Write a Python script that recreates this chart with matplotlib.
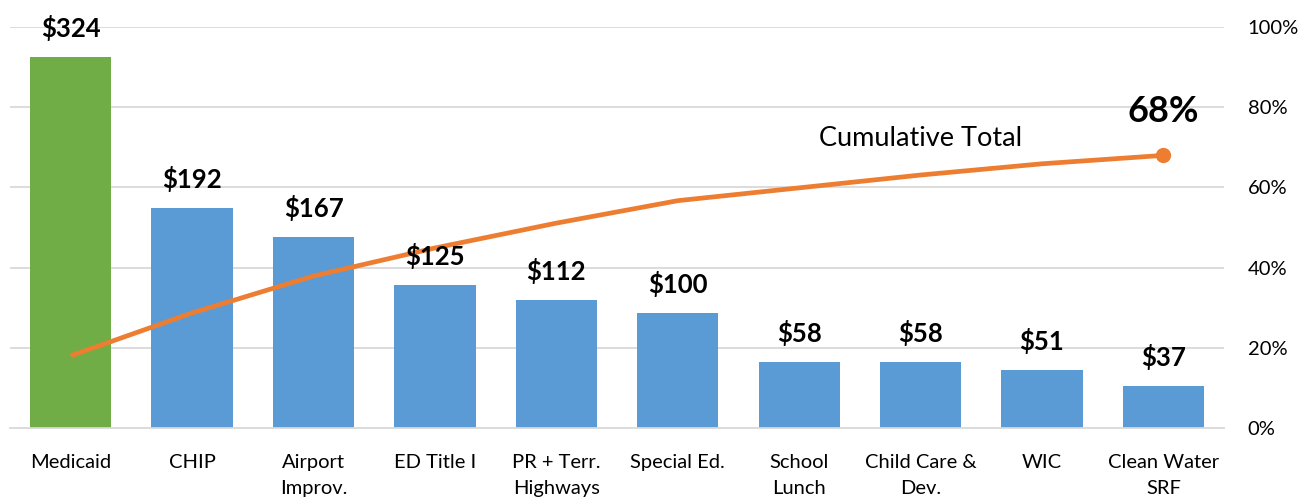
import matplotlib.pyplot as plt
from matplotlib.ticker import FuncFormatter

plt.rcParams['font.family'] = ['Lato', 'DejaVu Sans']

categories = ['Medicaid', 'CHIP', 'Airport\nImprov.', 'ED Title I', 'PR + Terr.\nHighways',
              'Special Ed.', 'School\nLunch', 'Child Care &\nDev.', 'WIC', 'Clean Water\nSRF']
amounts = [324, 192, 167, 125, 112, 100, 58, 58, 51, 37]
cumulative = [18.0, 28.7, 37.9, 44.9, 51.1, 56.7, 59.9, 63.1, 65.9, 68.0]
bar_colors = ['#70AD47'] + ['#5B9BD5'] * 9

fig = plt.figure(figsize=(13.14, 4.98), dpi=100)
ax = fig.add_axes([0.0076, 0.1406, 0.924, 0.805])
x = range(len(categories))

ax.bar(x, amounts, width=0.67, color=bar_colors, zorder=2)
ax.set_ylim(0, 350)
ax.set_xlim(-0.5, len(categories) - 0.5)
ax.set_yticks([])
for i, v in enumerate(amounts):
    ax.text(i, v + 14, '$%d' % v, ha='center', va='bottom', fontsize=18.5, fontweight='bold',
            zorder=5)

ax.set_xticks(list(x))
ax.set_xticklabels(categories, fontsize=14.5, va='top', linespacing=1.6)
ax.tick_params(axis='x', length=0, pad=19)
for s in ['top', 'right', 'left']:
    ax.spines[s].set_visible(False)
ax.spines['bottom'].set_color('#D9D9D9')
ax.spines['bottom'].set_linewidth(1.3)

ax2 = ax.twinx()
ax2.set_ylim(0, 100)
ax2.set_yticks([0, 20, 40, 60, 80, 100])
ax2.yaxis.set_major_formatter(FuncFormatter(lambda v, p: '%d%%' % v))
ax2.tick_params(axis='y', length=0, pad=17, labelsize=14.5)
for s in ['top', 'right', 'left', 'bottom']:
    ax2.spines[s].set_visible(False)

ax.set_zorder(ax2.get_zorder() + 1)
ax.patch.set_visible(False)
# gridlines behind the bars, in bar-axis units
for g in [20, 40, 60, 80, 100]:
    ax.axhline(g * 3.5, color='#D9D9D9', linewidth=1.3, zorder=1)

ax.plot(list(x), [c * 3.5 for c in cumulative], color='#ED7D31', linewidth=3.4, zorder=3,
        solid_capstyle='butt')
ax.plot([len(categories) - 1], [cumulative[-1] * 3.5], 'o', color='#ED7D31', markersize=10, zorder=4)
ax.text(len(categories) - 1, 276, '%d%%' % cumulative[-1], ha='center',
        va='center', fontsize=26, fontweight='bold')
ax.text(7.0, 253, 'Cumulative Total', ha='center', va='center', fontsize=19.5)

fig.savefig('out.png', dpi=100)
